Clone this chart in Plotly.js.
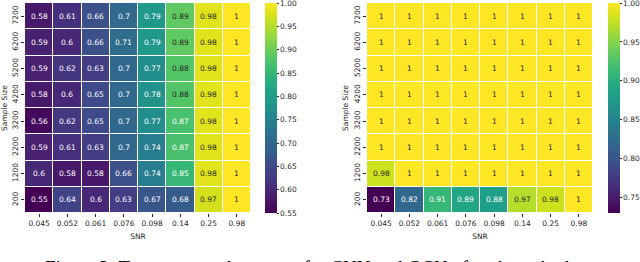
<!DOCTYPE html>
<html>
<head>
<meta charset="utf-8">
<script src="https://cdn.plot.ly/plotly-3.0.1.min.js"></script>
<style>
html,body{margin:0;padding:0;overflow:hidden;background:#fff;}
#chart{width:640px;height:262px;}
</style>
</head>
<body>
<div id="chart"></div>
<script>
// ---- data ----
const snrLabels = ["0.045","0.052","0.061","0.076","0.098","0.14","0.25","0.98"];
const sampleSizes = ["200","1200","2200","3200","4200","5200","6200","7200"]; // bottom to top

// CNN accuracy, rows listed bottom (200) to top (7200)
const cnnAcc = [
  [0.55,0.64,0.6,0.63,0.67,0.68,0.97,1],
  [0.6,0.58,0.58,0.66,0.74,0.85,0.98,1],
  [0.59,0.61,0.63,0.7,0.74,0.87,0.98,1],
  [0.56,0.62,0.65,0.7,0.77,0.87,0.98,1],
  [0.58,0.6,0.65,0.7,0.78,0.88,0.98,1],
  [0.59,0.62,0.63,0.7,0.77,0.88,0.98,1],
  [0.59,0.6,0.66,0.71,0.79,0.89,0.98,1],
  [0.58,0.61,0.66,0.7,0.79,0.89,0.98,1]
];
// GCN accuracy
const gcnAcc = [
  [0.73,0.82,0.91,0.89,0.88,0.97,0.98,1],
  [0.98,1,1,1,1,1,1,1],
  [1,1,1,1,1,1,1,1],
  [1,1,1,1,1,1,1,1],
  [1,1,1,1,1,1,1,1],
  [1,1,1,1,1,1,1,1],
  [1,1,1,1,1,1,1,1],
  [1,1,1,1,1,1,1,1]
];
const cnnTicks = [0.55,0.6,0.65,0.7,0.75,0.8,0.85,0.9,0.95,1.0];
const gcnTicks = [0.75,0.8,0.85,0.9,0.95,1.0];
const captionText = "Figure 3: Test accuracy heatmaps for CNN and GCN of each method";

// ---- styling ----
const viridis = [[0,'#440154'],[0.0627,'#48186a'],[0.1255,'#472d7b'],[0.1882,'#424086'],[0.2510,'#3b528b'],[0.3137,'#33638d'],[0.3765,'#2c728e'],[0.4392,'#26828e'],[0.5020,'#21918c'],[0.5647,'#1fa088'],[0.6275,'#28ae80'],[0.6902,'#3fbc73'],[0.7529,'#5ec962'],[0.8157,'#84d44b'],[0.8784,'#addc30'],[0.9412,'#d8e219'],[1,'#fde725']];
function hex2rgb(h){return [parseInt(h.substr(1,2),16),parseInt(h.substr(3,2),16),parseInt(h.substr(5,2),16)];}
function cmap(t){
  t=Math.max(0,Math.min(1,t));
  for(let i=1;i<viridis.length;i++){
    if(t<=viridis[i][0]){
      const a=viridis[i-1],b=viridis[i];
      const f=(t-a[0])/(b[0]-a[0]);
      const ca=hex2rgb(a[1]),cb=hex2rgb(b[1]);
      return ca.map((v,k)=>v+(cb[k]-v)*f);
    }
  }
  return hex2rgb('#fde725');
}
function lum(rgb){
  const c=rgb.map(v=>{v/=255;return v<=0.03928?v/12.92:Math.pow((v+0.055)/1.055,2.4);});
  return 0.2126*c[0]+0.7152*c[1]+0.0722*c[2];
}
const FONT = "DejaVu Sans";
const TXT = "#262626";

// cell labels: positions are category indices on the library's category axes
function cellAnnots(z, zmin, zmax, xr, yr){
  const out=[];
  z.forEach((row,i)=>row.forEach((v,j)=>{
    const L=lum(cmap((v-zmin)/(zmax-zmin)));
    out.push({x:j,y:i,xref:xr,yref:yr,text:String(v),showarrow:false,
      font:{family:FONT,size:7.5,color:L>0.408?'#262626':'#ffffff'}});
  }));
  return out;
}

const yTop = 1-3/262, yBot = 1-213/262;
const cnnMin=0.55, cnnMax=1.0, gcnMin=0.73, gcnMax=1.0;

function cbar(xpx, ticks, zmin, zmax){
  return {x:xpx/640,xanchor:'left',xref:'paper',y:yBot,yanchor:'bottom',len:yTop-yBot,lenmode:'fraction',
    thickness:12,thicknessmode:'pixels',outlinewidth:0,ticks:'outside',ticklen:2,tickcolor:TXT,
    tickvals:ticks,ticktext:ticks.map(t=>t.toFixed(2)),ticklabeloverflow:'allow',
    tickfont:{family:FONT,size:7.5,color:TXT},ypad:0,xpad:0};
}

const traces=[
  {type:'heatmap',x:snrLabels,y:sampleSizes,z:cnnAcc,zmin:cnnMin,zmax:cnnMax,colorscale:viridis,
   xgap:1,ygap:1,xaxis:'x',yaxis:'y',colorbar:cbar(265,cnnTicks,cnnMin,cnnMax),hoverinfo:'none'},
  {type:'heatmap',x:snrLabels,y:sampleSizes,z:gcnAcc,zmin:gcnMin,zmax:gcnMax,colorscale:viridis,
   xgap:1,ygap:1,xaxis:'x2',yaxis:'y2',colorbar:cbar(608,gcnTicks,gcnMin,gcnMax),hoverinfo:'none'}
];

function xax(d,anchor){
  return {domain:d,anchor:anchor,type:'category',ticks:'outside',ticklen:3,tickcolor:TXT,tickwidth:1,
    tickfont:{family:FONT,size:7.5,color:TXT},showgrid:false,zeroline:false,showline:false,automargin:false,
    title:{text:'SNR',font:{family:FONT,size:7.5,color:TXT},standoff:6}};
}
function yax(anchor){
  return {domain:[yBot,yTop],anchor:anchor,type:'category',ticks:'outside',ticklen:3,tickcolor:TXT,tickwidth:1,
    tickangle:-90,tickfont:{family:FONT,size:7.5,color:TXT},showgrid:false,zeroline:false,showline:false,automargin:false,
    title:{text:'Sample Size',font:{family:FONT,size:7.5,color:TXT},standoff:3}};
}

const annotations = cellAnnots(cnnAcc,cnnMin,cnnMax,'x','y').concat(cellAnnots(gcnAcc,gcnMin,gcnMax,'x2','y2'));
annotations.push({xref:'paper',yref:'paper',x:43/640,xanchor:'left',y:1-255/262,yanchor:'top',showarrow:false,
  text:captionText,font:{family:'Liberation Serif',size:19,color:'#000'}});

const layout={
  width:640,height:262,margin:{l:0,r:0,t:0,b:0},paper_bgcolor:'#fff',plot_bgcolor:'#fff',showlegend:false,
  xaxis:xax([25/640,251/640],'y'),
  yaxis:yax('x'),
  xaxis2:xax([367/640,593/640],'y2'),
  yaxis2:yax('x2'),
  annotations:annotations
};
Plotly.newPlot('chart',traces,layout,{staticPlot:true,displayModeBar:false});
</script>
</body>
</html>
